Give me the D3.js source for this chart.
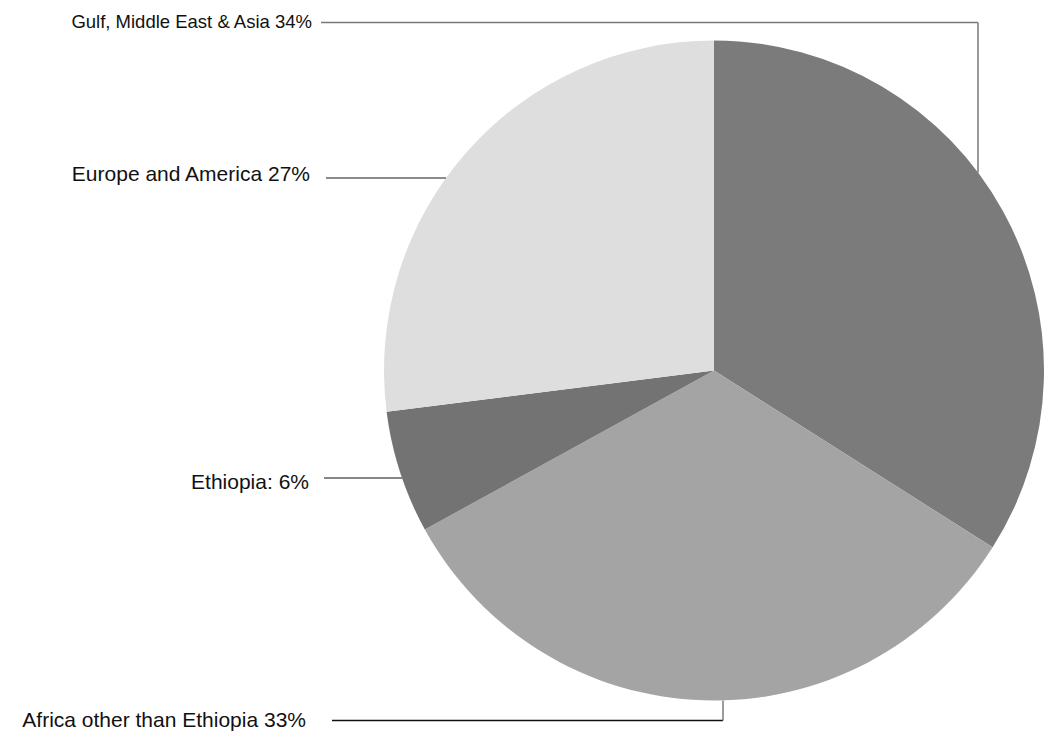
<!DOCTYPE html>
<html>
<head>
<meta charset="utf-8">
<script src="https://cdn.jsdelivr.net/npm/d3@7"></script>
<style>
  html, body { margin: 0; padding: 0; background: #ffffff; }
  svg { display: block; }
  text { font-family: "Liberation Sans", Arial, sans-serif; fill: #111111; }
</style>
</head>
<body>
<svg id="chart" width="1049" height="740"></svg>
<script>
// Regions and their shares (percent), clockwise from 12 o'clock
const regions = ["Gulf, Middle East & Asia", "Africa other than Ethiopia", "Ethiopia", "Europe and America"];
const shares = [34, 33, 6, 27];
const labels = ["Gulf, Middle East & Asia 34%", "Africa other than Ethiopia 33%", "Ethiopia: 6%", "Europe and America 27%"];
const sliceColors = ["#7b7b7b", "#a4a4a4", "#737373", "#dedede"];

// Label placement: text end x, baseline, leader y, font size, leader style
const labelLayout = [
  { textX: 312, baseY: 28,    lineY: 22.5,  lineStart: 321, size: 18.5, elbowX: 978, hColor: "#777777", vColor: "#777777", w: 1.5 },
  { textX: 306, baseY: 726.5, lineY: 720.5, lineStart: 332, size: 21,   elbowX: 723, hColor: "#111111", vColor: "#7a7a7a", w: 1.3 },
  { textX: 309, baseY: 489,   lineY: 478,   lineStart: 324, size: 21,   elbowX: null, hColor: "#111111", vColor: null, w: 1.2 },
  { textX: 310, baseY: 180.5, lineY: 178,   lineStart: 326, size: 21,   elbowX: null, hColor: "#666666", vColor: null, w: 1.5 }
];

const cx = 714, cy = 370.5, radius = 330;

const svg = d3.select("#chart");
const g = svg.append("g").attr("transform", `translate(${cx},${cy})`);

const pie = d3.pie().sort(null).value(d => d)(shares);
const arc = d3.arc().innerRadius(0).outerRadius(radius);

g.selectAll("path.slice")
  .data(pie)
  .join("path")
  .attr("class", "slice")
  .attr("d", arc)
  .attr("fill", (d, i) => sliceColors[i]);

// Leader lines: horizontal run from the label, either straight to the rim
// or to an elbow followed by a vertical drop/rise onto the rim.
labels.forEach((txt, i) => {
  const L = labelLayout[i];
  const a = pie[i];
  const mid = (a.startAngle + a.endAngle) / 2;
  if (L.elbowX !== null) {
    const dx = L.elbowX - cx;
    const dy = Math.sqrt(radius * radius - dx * dx);
    // rim point on the same side as the slice's middle
    const rimY = Math.cos(mid) > 0 ? cy - dy : cy + dy;
    svg.append("line")
      .attr("x1", L.lineStart).attr("y1", L.lineY)
      .attr("x2", L.elbowX).attr("y2", L.lineY)
      .attr("stroke", L.hColor).attr("stroke-width", L.w);
    svg.append("line")
      .attr("x1", L.elbowX).attr("y1", L.lineY)
      .attr("x2", L.elbowX).attr("y2", rimY)
      .attr("stroke", L.vColor).attr("stroke-width", 1.5);
  } else {
    const dy = L.lineY - cy;
    const rimX = cx - Math.sqrt(radius * radius - dy * dy);
    svg.append("line")
      .attr("x1", L.lineStart).attr("y1", L.lineY)
      .attr("x2", rimX).attr("y2", L.lineY)
      .attr("stroke", L.hColor).attr("stroke-width", L.w);
  }
  svg.append("text")
    .attr("x", L.textX)
    .attr("y", L.baseY)
    .attr("text-anchor", "end")
    .style("font-size", L.size + "px")
    .text(txt);
});
</script>
</body>
</html>
